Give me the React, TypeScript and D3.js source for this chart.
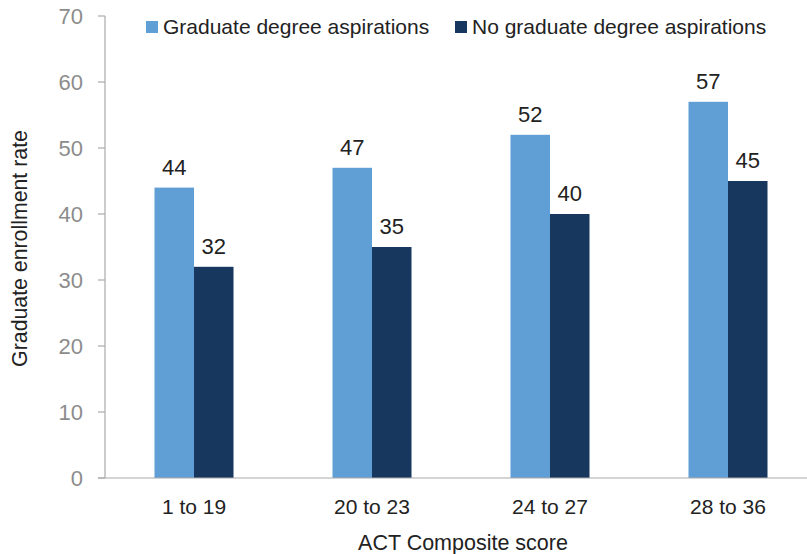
import React from "react";
import * as d3 from "d3";

const categories = ["1 to 19", "20 to 23", "24 to 27", "28 to 36"];
const seriesNames = ["Graduate degree aspirations", "No graduate degree aspirations"];
const gradValues = [44, 47, 52, 57];
const noGradValues = [32, 35, 40, 45];
const yTicks = [0, 10, 20, 30, 40, 50, 60, 70];
const colors = ["#5F9FD6", "#17375E"];

const W = 807, H = 554;
const left = 105, right = 817, top = 16, bottom = 478;
const FONT = "'Liberation Sans', Arial, Helvetica, sans-serif";

export default function App() {
  const x = d3.scaleBand<string>().domain(categories).range([left, right]).paddingInner(0).paddingOuter(0);
  const y = d3.scaleLinear().domain([0, 70]).range([bottom, top]);
  const bw = 39.5;
  const series = [gradValues, noGradValues];
  return (
    <svg width={W} height={H} style={{ position: "absolute", left: 0, top: 0, background: "#fff" }} fontFamily={FONT}>
      {/* y axis */}
      <line x1={left} x2={left} y1={top} y2={bottom} stroke="#aaa" strokeWidth={1.2} />
      {yTicks.map((t) => (
        <g key={t}>
          <line x1={left - 7} x2={left} y1={y(t)} y2={y(t)} stroke="#aaa" strokeWidth={1.2} />
          <text x={83} y={y(t)} dy="0.35em" textAnchor="end" fontSize={22} fill="#8c8c8c">{t}</text>
        </g>
      ))}
      {/* bars */}
      {categories.map((c, i) => {
        const cx = (x(c) as number) + x.bandwidth() / 2;
        return (
          <g key={c}>
            {series.map((s, j) => {
              const bx = cx - bw + j * bw;
              return (
                <g key={j}>
                  <rect x={bx} y={y(s[i])} width={bw} height={bottom - y(s[i])} fill={colors[j]} />
                  <text x={bx + bw / 2} y={y(s[i]) - 13} textAnchor="middle" fontSize={22} fill="#222">{s[i]}</text>
                </g>
              );
            })}
            <text x={cx} y={514} textAnchor="middle" fontSize={21} fill="#222">{c}</text>
          </g>
        );
      })}
      {/* x axis */}
      <line x1={left - 7} x2={W} y1={bottom} y2={bottom} stroke="#aaa" strokeWidth={1.2} />
      {/* titles */}
      <text x={463} y={550} textAnchor="middle" fontSize={21.5} fill="#222">ACT Composite score</text>
      <text transform={`translate(27,248.5) rotate(-90)`} textAnchor="middle" fontSize={21.3} fill="#222">Graduate enrollment rate</text>
      {/* legend */}
      {seriesNames.map((n, j) => {
        const lx = [146, 455][j];
        return (
          <g key={n}>
            <rect x={lx} y={21} width={12} height={12} fill={colors[j]} />
            <text x={lx + 17} y={27} dy="0.35em" fontSize={21} fill="#222">{n}</text>
          </g>
        );
      })}
    </svg>
  );
}
